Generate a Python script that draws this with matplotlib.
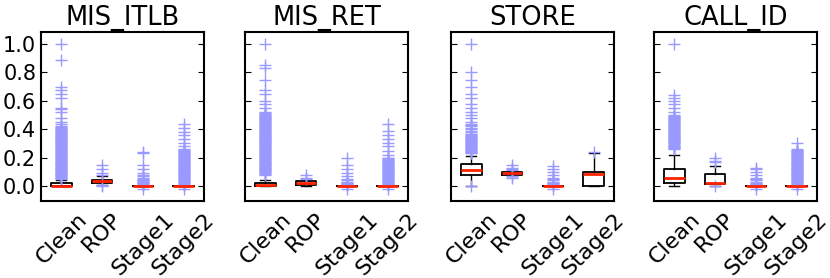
import matplotlib as mpl
mpl.use('Agg')
import matplotlib.pyplot as plt

groups = ["Clean", "ROP", "Stage1", "Stage2"]
titles = ["MIS_ITLB", "MIS_RET", "STORE", "CALL_ID"]

# per panel: [med, q1, q3, whislo, whishi] for each group
itlb_box = [[0.0, 0.0, 0.02, 0.0, 0.04],
            [0.035, 0.022, 0.045, 0.005, 0.07],
            [0.0, 0.0, 0.0, 0.0, 0.0],
            [0.0, 0.0, 0.0, 0.0, 0.0]]
ret_box = [[0.005, 0.0, 0.025, 0.0, 0.04],
           [0.02, 0.01, 0.035, 0.0, 0.04],
           [0.0, 0.0, 0.0, 0.0, 0.0],
           [0.0, 0.0, 0.0, 0.0, 0.0]]
store_box = [[0.113, 0.078, 0.155, 0.0, 0.21],
             [0.09, 0.08, 0.1, 0.07, 0.105],
             [0.0, 0.0, 0.0, 0.0, 0.0],
             [0.085, 0.0, 0.1, 0.0, 0.23]]
call_box = [[0.055, 0.02, 0.118, 0.0, 0.22],
            [0.02, 0.015, 0.083, 0.0, 0.14],
            [0.0, 0.0, 0.0, 0.0, 0.0],
            [0.0, 0.0, 0.0, 0.0, 0.0]]

# outliers (dense bands listed point by point)
itlb_fl = [
    [0.05, 0.055, 0.06, 0.065, 0.07, 0.075, 0.08, 0.085, 0.09, 0.095,
     0.10, 0.105, 0.11, 0.115, 0.12, 0.125, 0.13, 0.135, 0.14, 0.145,
     0.15, 0.155, 0.16, 0.165, 0.17, 0.175, 0.18, 0.185, 0.19, 0.195,
     0.20, 0.205, 0.21, 0.215, 0.22, 0.225, 0.23, 0.235, 0.24, 0.245,
     0.25, 0.255, 0.26, 0.265, 0.27, 0.275, 0.28, 0.285, 0.29, 0.295,
     0.30, 0.305, 0.31, 0.315, 0.32, 0.325, 0.33, 0.335, 0.34, 0.345,
     0.35, 0.355, 0.36, 0.365, 0.37, 0.375, 0.38, 0.385, 0.39, 0.395,
     0.40, 0.405, 0.41, 0.415, 0.42, 0.44, 0.45, 0.48, 0.52, 0.54,
     0.55, 0.62, 0.65, 0.68, 0.70, 0.89, 1.0],
    [0.0, 0.01, 0.08, 0.09, 0.12, 0.15],
    [0.005, 0.01, 0.015, 0.02, 0.025, 0.03, 0.035, 0.04, 0.045, 0.05,
     0.06, 0.07, 0.08, 0.09, 0.12, 0.15, 0.23, 0.24, -0.02],
    [0.005, 0.01, 0.015, 0.02, 0.025, 0.03, 0.035, 0.04, 0.045, 0.05,
     0.055, 0.06, 0.065, 0.07, 0.075, 0.08, 0.085, 0.09, 0.095, 0.10,
     0.105, 0.11, 0.115, 0.12, 0.125, 0.13, 0.135, 0.14, 0.145, 0.15,
     0.155, 0.16, 0.165, 0.17, 0.175, 0.18, 0.185, 0.19, 0.195, 0.20,
     0.205, 0.21, 0.215, 0.22, 0.225, 0.23, 0.235, 0.24, 0.245, 0.25,
     0.255, 0.26, 0.28, 0.30, 0.33, 0.36, 0.38, 0.41, 0.44, -0.02]]
ret_fl = [
    [0.08, 0.085, 0.09, 0.095, 0.10, 0.105, 0.11, 0.115, 0.12, 0.125,
     0.13, 0.135, 0.14, 0.145, 0.15, 0.155, 0.16, 0.165, 0.17, 0.175,
     0.18, 0.185, 0.19, 0.195, 0.20, 0.205, 0.21, 0.215, 0.22, 0.225,
     0.23, 0.235, 0.24, 0.245, 0.25, 0.255, 0.26, 0.265, 0.27, 0.275,
     0.28, 0.285, 0.29, 0.295, 0.30, 0.305, 0.31, 0.315, 0.32, 0.325,
     0.33, 0.335, 0.34, 0.345, 0.35, 0.355, 0.36, 0.365, 0.37, 0.375,
     0.38, 0.385, 0.39, 0.395, 0.40, 0.405, 0.41, 0.415, 0.42, 0.425,
     0.43, 0.435, 0.44, 0.445, 0.45, 0.455, 0.46, 0.465, 0.47, 0.475,
     0.48, 0.485, 0.49, 0.495, 0.50, 0.505, 0.51, 0.515, 0.52, 0.55,
     0.58, 0.60, 0.65, 0.68, 0.75, 0.83, 0.85, 1.0],
    [0.05, 0.06, 0.08],
    [0.005, 0.01, 0.015, 0.02, 0.025, 0.03, 0.04, 0.05, 0.07, 0.09,
     0.12, 0.15, 0.20, -0.02],
    [0.005, 0.01, 0.015, 0.02, 0.025, 0.03, 0.035, 0.04, 0.045, 0.05,
     0.055, 0.06, 0.065, 0.07, 0.075, 0.08, 0.085, 0.09, 0.095, 0.10,
     0.105, 0.11, 0.115, 0.12, 0.125, 0.13, 0.135, 0.14, 0.145, 0.15,
     0.155, 0.16, 0.165, 0.17, 0.175, 0.18, 0.185, 0.19, 0.195, 0.20,
     0.22, 0.25, 0.28, 0.30, 0.33, 0.36, 0.39, 0.44, -0.02]]
store_fl = [
    [0.0, 0.23, 0.235, 0.24, 0.245, 0.25, 0.255, 0.26, 0.265, 0.27, 0.275,
     0.28, 0.285, 0.29, 0.295, 0.30, 0.305, 0.31, 0.315, 0.32, 0.325,
     0.33, 0.335, 0.34, 0.345, 0.35, 0.355, 0.36, 0.365, 0.37, 0.38,
     0.39, 0.40, 0.41, 0.42, 0.43, 0.44, 0.45, 0.48, 0.50, 0.52, 0.55,
     0.58, 0.62, 0.65, 0.70, 0.75, 0.80, 1.0],
    [0.06, 0.07, 0.11, 0.12, 0.13, 0.15],
    [0.005, 0.01, 0.015, 0.02, 0.025, 0.03, 0.04, 0.05, 0.06, 0.08,
     0.10, 0.12, 0.14, -0.02],
    [0.24]]
call_fl = [
    [0.26, 0.265, 0.27, 0.275, 0.28, 0.285, 0.29, 0.295, 0.30, 0.305,
     0.31, 0.315, 0.32, 0.325, 0.33, 0.335, 0.34, 0.345, 0.35, 0.355,
     0.36, 0.365, 0.37, 0.375, 0.38, 0.385, 0.39, 0.395, 0.40, 0.405,
     0.41, 0.415, 0.42, 0.425, 0.43, 0.435, 0.44, 0.445, 0.45, 0.455,
     0.46, 0.465, 0.47, 0.475, 0.48, 0.485, 0.49, 0.495, 0.50, 0.52,
     0.55, 0.58, 0.60, 0.62, 0.64, 1.0],
    [0.0, 0.17, 0.18, 0.20],
    [0.005, 0.01, 0.015, 0.02, 0.025, 0.03, 0.04, 0.05, 0.06, 0.08,
     0.10, 0.12, 0.13, -0.02],
    [0.005, 0.01, 0.015, 0.02, 0.025, 0.03, 0.035, 0.04, 0.045, 0.05,
     0.055, 0.06, 0.065, 0.07, 0.075, 0.08, 0.085, 0.09, 0.095, 0.10,
     0.105, 0.11, 0.115, 0.12, 0.125, 0.13, 0.135, 0.14, 0.145, 0.15,
     0.155, 0.16, 0.165, 0.17, 0.175, 0.18, 0.185, 0.19, 0.195, 0.20,
     0.205, 0.21, 0.215, 0.22, 0.225, 0.23, 0.235, 0.24, 0.245, 0.25,
     0.255, 0.26, 0.30, -0.02]]

boxes = [itlb_box, ret_box, store_box, call_box]
fliers = [itlb_fl, ret_fl, store_fl, call_fl]

fig = plt.figure(figsize=(8.3, 2.78), dpi=100)
lefts = [41, 245, 451, 654]
for i in range(4):
    ax = fig.add_axes([lefts[i] / 830, 77 / 278, 163 / 830, 169 / 278])
    stats = []
    for j, g in enumerate(groups):
        med, q1, q3, lo, hi = boxes[i][j]
        stats.append(dict(med=med, q1=q1, q3=q3, whislo=lo, whishi=hi,
                          fliers=fliers[i][j], label=g))
    ax.bxp(stats, widths=0.5,
           boxprops=dict(color='black', linewidth=1.3),
           whiskerprops=dict(color='black', linewidth=1.0),
           capprops=dict(color='black', linewidth=1.0),
           medianprops=dict(color='#ff2200', linewidth=2.0),
           flierprops=dict(marker='+', markeredgecolor='#9999ff', markersize=8,
                           markeredgewidth=1.0, linestyle='none'))
    ax.set_ylim(-0.105, 1.085)
    ax.set_xlim(0.5, 4.5)
    ax.set_yticks([0.0, 0.2, 0.4, 0.6, 0.8, 1.0])
    ax.set_title(titles[i], fontsize=18.5, pad=5)
    ax.tick_params(axis='y', direction='in', length=4, right=True, labelsize=15)
    ax.tick_params(axis='x', length=0, labelsize=16, pad=6)
    plt.setp(ax.get_xticklabels(), rotation=45, ha='center')
    if i > 0:
        ax.set_yticklabels([])
    for s in ax.spines.values():
        s.set_linewidth(1.5)

fig.savefig("out.png", dpi=100)
